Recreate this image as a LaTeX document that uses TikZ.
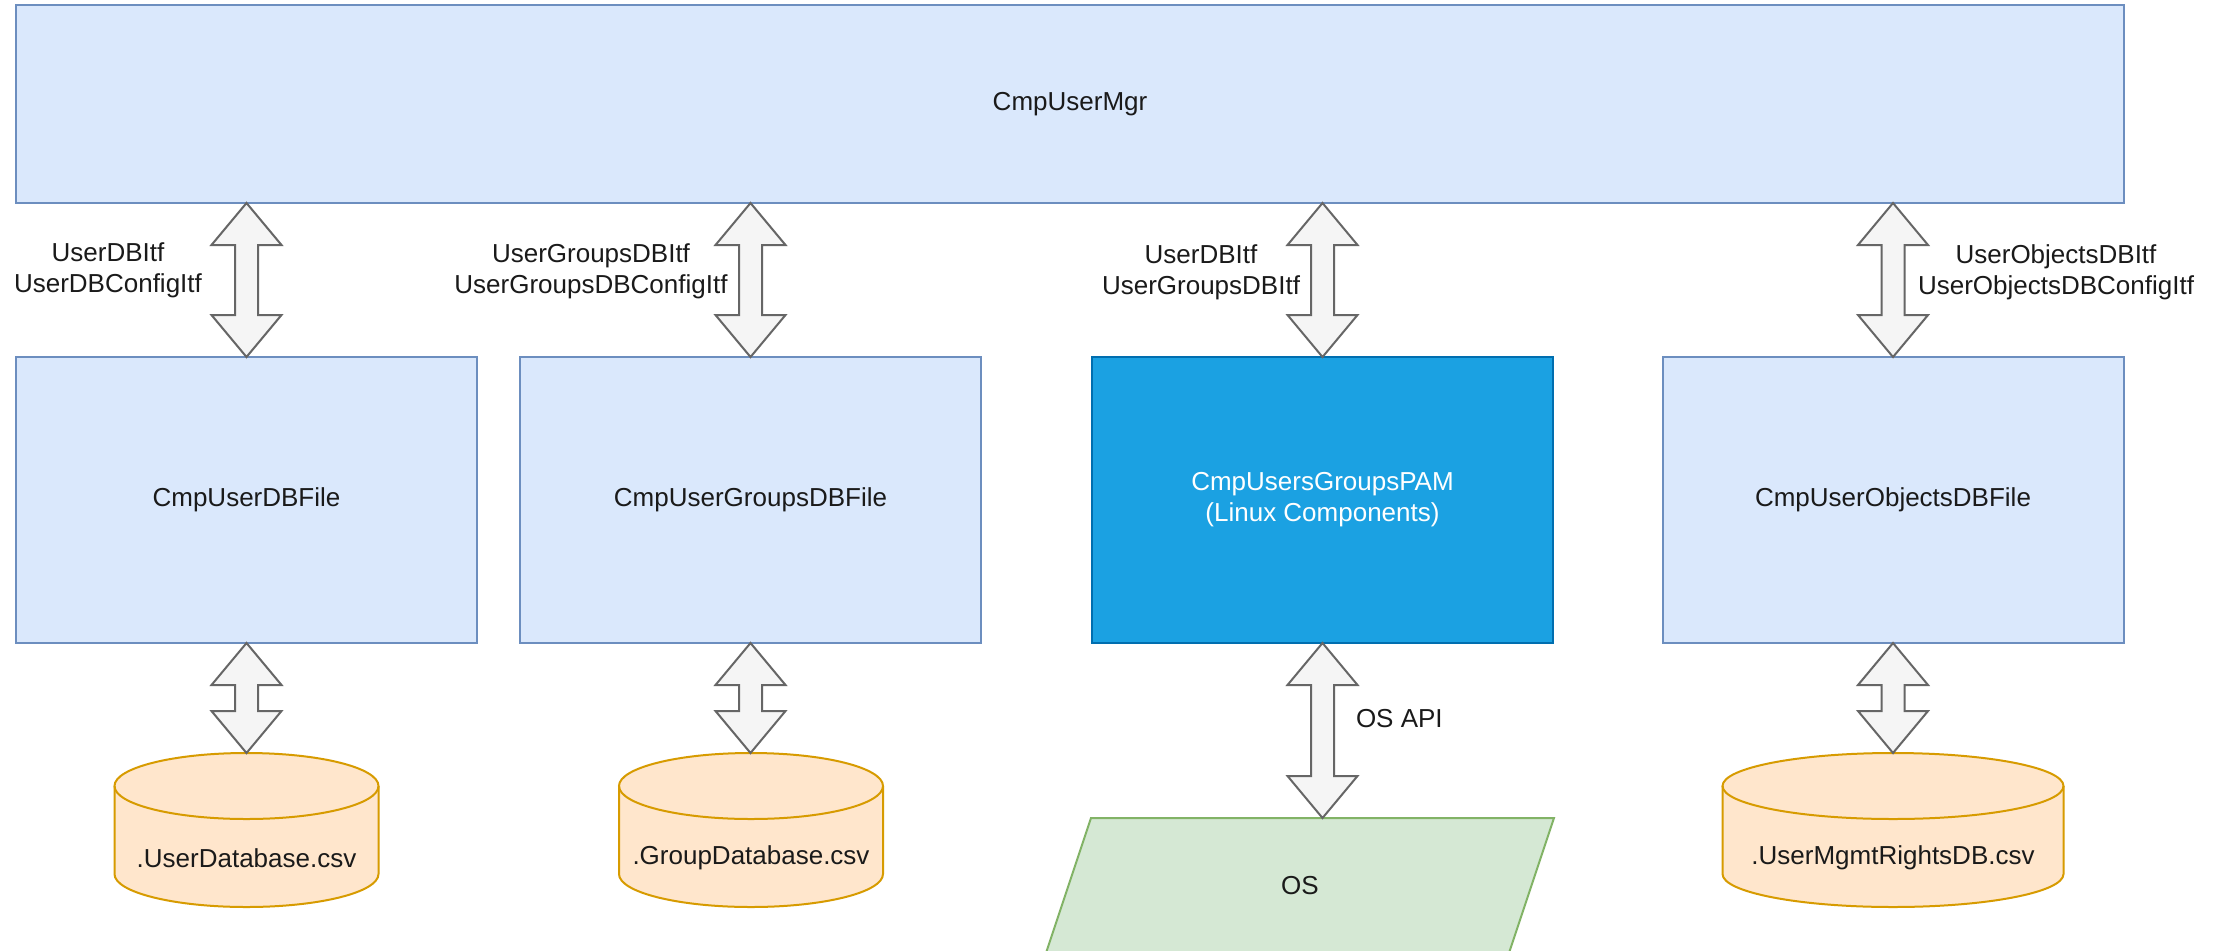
\documentclass[tikz,border=0pt]{standalone}
\usepackage{fontspec}
\setmainfont{Liberation Sans}
\usetikzlibrary{calc}
\definecolor{bluefill}{HTML}{DAE8FC}
\definecolor{bluedraw}{HTML}{6C8EBF}
\definecolor{pamfill}{HTML}{1BA1E2}
\definecolor{pamdraw}{HTML}{006EAF}
\definecolor{orfill}{HTML}{FFE6CC}
\definecolor{ordraw}{HTML}{D79B00}
\definecolor{grfill}{HTML}{D5E8D4}
\definecolor{grdraw}{HTML}{82B366}
\definecolor{arfill}{HTML}{F5F5F5}
\definecolor{ardraw}{HTML}{666666}
\definecolor{txt}{HTML}{1A1A1A}
\tikzset{
  base/.style={inner sep=0pt, outer sep=0pt, align=center, text=txt,
    font=\fontsize{26pt}{31pt}\selectfont},
  compbox/.style={base, draw=bluedraw, fill=bluefill, line width=2pt,
    minimum width=461pt, minimum height=286pt},
  mgrbox/.style={compbox, minimum width=2108pt, minimum height=198pt},
  pambox/.style={compbox, draw=pamdraw, fill=pamfill, text=white},
  dbnode/.style={base, minimum height=210pt},
  osnode/.style={base, minimum width=463pt, minimum height=135pt},
  ifclabel/.style={base},
  bigarrow/.style={draw=ardraw, fill=arfill, line width=2pt, line join=miter},
  dbfill/.style={fill=orfill},
  dbline/.style={draw=ordraw, line width=2pt},
  osshape/.style={draw=grdraw, fill=grfill, line width=2pt}
}
\newcommand\dblarrow[2]{%
  \path[bigarrow] let \p1=(#1), \p2=(#2) in
   (\x1,\y1) -- (\x1+35pt,\y1-42pt) -- (\x1+11.5pt,\y1-42pt) --
   (\x1+11.5pt,\y2+42pt) -- (\x1+35pt,\y2+42pt) -- (\x1,\y2) --
   (\x1-35pt,\y2+42pt) -- (\x1-11.5pt,\y2+42pt) --
   (\x1-11.5pt,\y1-42pt) -- (\x1-35pt,\y1-42pt) -- cycle;}
\newcommand\dbshape[1]{%
  \path[dbfill] let \p1=(#1.north), \p2=(#1.east), \n1={\x2-\x1} in
   (\x1-\n1,\y1-33pt) rectangle (\x2,\y1-121pt);
  \path[dbfill] let \p1=(#1.north), \p2=(#1.east), \n1={\x2-\x1} in
   (\x1,\y1-121pt) ellipse [x radius=\n1, y radius=33pt];
  \path[dbfill] let \p1=(#1.north), \p2=(#1.east), \n1={\x2-\x1} in
   (\x1,\y1-33pt) ellipse [x radius=\n1, y radius=33pt];
  \path[dbline] let \p1=(#1.north), \p2=(#1.east), \n1={\x2-\x1} in
   (\x1-\n1,\y1-33pt) -- (\x1-\n1,\y1-121pt)
   arc[start angle=180, end angle=360, x radius=\n1, y radius=33pt]
   -- (\x2,\y1-33pt);
  \path[dbline] let \p1=(#1.north), \p2=(#1.east), \n1={\x2-\x1} in
   (\x1,\y1-33pt) ellipse [x radius=\n1, y radius=33pt];}
\begin{document}
\begin{tikzpicture}[x=1pt, y=-1pt]
\useasboundingbox (0,0) rectangle (2223,950);
\fill[white] (0,0) rectangle (2223,950);

% boxes
\node[mgrbox] (mgr) at (1070,104) {CmpUserMgr};
\node[compbox] (f1) at (246.5,500) {CmpUserDBFile};
\node[compbox] (f2) at (750.5,500) {CmpUserGroupsDBFile};
\node[pambox] (pam) at (1322.5,500) {CmpUsersGroupsPAM\\(Linux Components)};
\node[compbox] (f4) at (1893,500) {CmpUserObjectsDBFile};

% databases
\node[dbnode, minimum width=264pt] (db1) at (246.5,858) {};
\node[dbnode, minimum width=264pt] (db2) at (751,858) {};
\node[dbnode, minimum width=341pt] (db3) at (1893,858) {};
\dbshape{db1}
\dbshape{db2}
\dbshape{db3}
\node[base] at (db1) {.UserDatabase.csv};
\node[base] at (db2) {.GroupDatabase.csv};
\node[base] at (db3) {.UserMgmtRightsDB.csv};

% OS
\node[osnode] (os) at (1300,885.5) {};
\path[osshape] ([xshift=22.5pt]os.north west) -- ([xshift=22.5pt]os.north east)
  -- ([xshift=-22.5pt]os.south east) -- ([xshift=-22.5pt]os.south west) -- cycle;
\node[base] at (os) {OS};

% arrows
\dblarrow{mgr.south -| f1.north}{f1.north}
\dblarrow{mgr.south -| f2.north}{f2.north}
\dblarrow{mgr.south -| pam.north}{pam.north}
\dblarrow{mgr.south -| f4.north}{f4.north}
\dblarrow{f1.south}{db1.north}
\dblarrow{f2.south}{db2.north}
\dblarrow{f4.south}{db3.north}
\dblarrow{pam.south}{pam.south |- os.north}

% interface labels
\node[ifclabel] (l1) at (108,270) {UserDBItf\\UserDBConfigItf};
\node[ifclabel] (l2) at (591,271) {UserGroupsDBItf\\UserGroupsDBConfigItf};
\node[ifclabel] (l3) at (1201,272) {UserDBItf\\UserGroupsDBItf};
\node[ifclabel] (l4) at (2056,272) {UserObjectsDBItf\\UserObjectsDBConfigItf};
\node[ifclabel, anchor=west] (l5) at (1356,719) {OS API};
\end{tikzpicture}
\end{document}
